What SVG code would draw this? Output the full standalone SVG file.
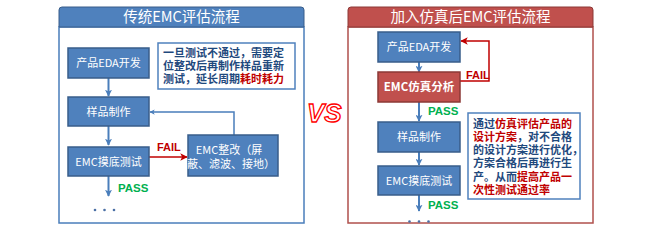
<svg xmlns="http://www.w3.org/2000/svg" width="650" height="231" viewBox="0 0 650 231">
<defs>
<style>
.frameB{fill:#fff;stroke:#4A7EBB;stroke-width:1.5}
.frameR{fill:#fff;stroke:#B0504C;stroke-width:1.5}
.titleB{fill:#4F81BD;stroke:#385D8A;stroke-width:1}
.titleR{fill:#C0504D;stroke:#8C3836;stroke-width:1}
.ttl{font-family:"Noto Sans CJK SC","Liberation Sans",sans-serif;font-size:14.5px;fill:#fff;text-anchor:middle}
.bbox{fill:#4F81BD;stroke:#385D8A;stroke-width:1.5}
.rbox{fill:#C0504D;stroke:#8C3836;stroke-width:1.5}
.bt{font-family:"Noto Sans CJK SC","Liberation Sans",sans-serif;font-size:11px;fill:#fff;text-anchor:middle}
.bold{font-weight:bold}
.note{fill:#fff;stroke:#4F81BD;stroke-width:1.5}
.nt{font-family:"Noto Sans CJK SC","Liberation Sans",sans-serif;font-size:11px;font-weight:bold;fill:#1F497D}
.red{fill:#C00000}
.fail{font-family:"Liberation Sans",Arial,sans-serif;font-size:11px;font-weight:bold;fill:#C00000}
.pass{font-family:"Liberation Sans",Arial,sans-serif;font-size:11.5px;font-weight:bold;fill:#00B050}
.ab{fill:none;stroke:#4A7EBB;stroke-width:2;marker-end:url(#mb)}
.ar{fill:none;stroke:#C00000;stroke-width:1.5;marker-end:url(#mr)}
.dot{fill:#4A6FA5}
</style>
<marker id="mb" viewBox="0 0 10 10" refX="9" refY="5" markerWidth="3.5" markerHeight="3.5" orient="auto" markerUnits="strokeWidth">
<path d="M0,0 L10,5 L0,10 L2.5,5 z" fill="#4A7EBB"/>
</marker>
<marker id="mr" viewBox="0 0 10 10" refX="9" refY="5" markerWidth="5" markerHeight="5" orient="auto" markerUnits="strokeWidth">
<path d="M0,0 L10,5 L0,10 L2.5,5 z" fill="#C00000"/>
</marker>
</defs>

<g id="left-panel">
<rect class="frameB" x="59" y="27" width="245" height="196"/>
<path class="titleB" d="M59,27 V10 Q59,7 62,7 H301 Q304,7 304,10 V27 Z"/>
<text class="ttl" x="181.5" y="22">传统EMC评估流程</text>
</g>

<g id="right-panel">
<rect class="frameR" x="348" y="27" width="245" height="196"/>
<path class="titleR" d="M348,27 V10 Q348,7 351,7 H590 Q593,7 593,10 V27 Z"/>
<text class="ttl" x="470.5" y="22">加入仿真后EMC评估流程</text>
</g>

<g id="connectors">
<line class="ab" x1="108.5" y1="78" x2="108.5" y2="96"/>
<line class="ab" x1="108.5" y1="126" x2="108.5" y2="145"/>
<line class="ab" x1="108.5" y1="176" x2="108.5" y2="196"/>
<line class="ar" x1="149" y1="157" x2="187" y2="157"/>
<polyline class="ab" points="234,135 234,112 150,112" style="stroke-width:1.5"/>
<line class="ab" x1="419" y1="62" x2="419" y2="72"/>
<polyline class="ar" points="460,81 489,81 489,41 461,41"/>
<line class="ab" x1="419" y1="102" x2="419" y2="121"/>
<line class="ab" x1="419" y1="152" x2="419" y2="165"/>
<line class="ab" x1="419" y1="195" x2="419" y2="211"/>
<text class="fail" x="157" y="151">FAIL</text>
<text class="pass" x="118" y="192">PASS</text>
<text class="fail" x="466" y="79">FAIL</text>
<text class="pass" x="428" y="115">PASS</text>
<text class="pass" x="428" y="209">PASS</text>
</g>

<g id="n-eda-l">
<rect class="bbox" x="68" y="48" width="81" height="30"/>
<text class="bt" x="108.5" y="67">产品EDA开发</text>
</g>
<g id="n-sample-l">
<rect class="bbox" x="68" y="97" width="81" height="29"/>
<text class="bt" x="108.5" y="115.5">样品制作</text>
</g>
<g id="n-test-l">
<rect class="bbox" x="68" y="147" width="81" height="29"/>
<text class="bt" x="108.5" y="165.5">EMC摸底测试</text>
</g>
<g id="n-fix-l">
<rect class="bbox" x="188" y="135" width="90" height="41"/>
<text class="bt" x="229" y="154">EMC整改（屏</text>
<text class="bt" x="231" y="167.5">蔽、滤波、接地）</text>
</g>
<g id="n-note-l">
<rect class="note" x="158" y="43" width="137" height="46"/>
<text class="nt" x="163" y="57">一旦测试不通过，需要定</text>
<text class="nt" x="163" y="70">位整改后再制作样品重新</text>
<text class="nt" x="163" y="82.5">测试，延长周期<tspan class="red">耗时耗力</tspan></text>
</g>
<g id="n-dots-l">
<circle class="dot" cx="95" cy="210" r="1.3"/>
<circle class="dot" cx="104.5" cy="210" r="1.3"/>
<circle class="dot" cx="114" cy="210" r="1.3"/>
</g>

<g id="n-eda-r">
<rect class="bbox" x="378" y="32" width="82" height="30"/>
<text class="bt" x="419" y="51">产品EDA开发</text>
</g>
<g id="n-sim-r">
<rect class="rbox" x="378" y="72" width="82" height="30"/>
<text class="bt bold" x="419" y="91" style="font-size:11.5px">EMC仿真分析</text>
</g>
<g id="n-sample-r">
<rect class="bbox" x="378" y="122" width="82" height="30"/>
<text class="bt" x="419" y="141">样品制作</text>
</g>
<g id="n-test-r">
<rect class="bbox" x="378" y="166" width="82" height="29"/>
<text class="bt" x="419" y="184.5">EMC摸底测试</text>
</g>
<g id="n-note-r">
<rect class="note" x="468" y="113" width="112" height="86"/>
<text class="nt" x="473" y="127.5">通过<tspan class="red">仿真评估产品的</tspan></text>
<text class="nt" x="473" y="140.5"><tspan class="red">设计方案</tspan>，对不合格</text>
<text class="nt" x="473" y="154">的设计方案进行优化，</text>
<text class="nt" x="473" y="167">方案合格后再进行生</text>
<text class="nt" x="473" y="180.5">产。从而<tspan class="red">提高产品一</tspan></text>
<text class="nt" x="473" y="193.5"><tspan class="red">次性测试通过率</tspan></text>
</g>
<g id="n-dots-r">
<circle class="dot" cx="409.5" cy="221.5" r="1.3"/>
<circle class="dot" cx="419" cy="221.5" r="1.3"/>
<circle class="dot" cx="428.5" cy="221.5" r="1.3"/>
</g>

<g id="vs">
<text x="307" y="122" font-family="Liberation Sans, Arial, sans-serif" font-size="26" font-weight="bold" font-style="italic" fill="#fff" stroke="#FF0000" stroke-width="1.3">VS</text>
</g>
</svg>
